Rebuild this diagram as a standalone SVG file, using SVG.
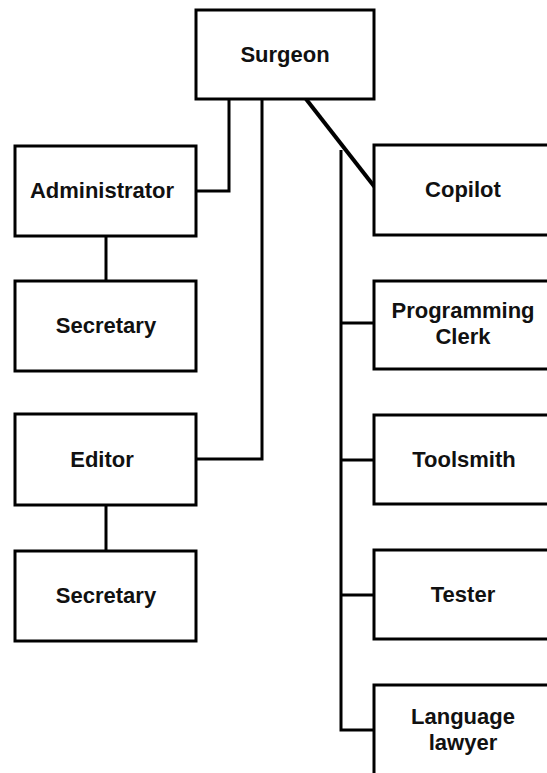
<svg xmlns="http://www.w3.org/2000/svg" width="547" height="773" viewBox="0 0 547 773">
<style>
.box{fill:#fff;stroke:#000;stroke-width:3}
.lbl{font-family:"Liberation Sans",Arial,sans-serif;font-weight:bold;font-size:22px;fill:#111;text-anchor:middle}
.con{fill:none;stroke:#000;stroke-width:3}
</style>
<rect width="547" height="773" fill="#fff"/>
<g id="connectors">
<polyline class="con" points="229,99 229,191 196,191"/>
<polyline class="con" points="262,99 262,459 196,459"/>
<line class="con" x1="306" y1="99" x2="377" y2="190" style="stroke-width:4"/>
<polyline class="con" points="341,150 341,730 374,730"/>
<line class="con" x1="341" y1="323" x2="374" y2="323"/>
<line class="con" x1="341" y1="460" x2="374" y2="460"/>
<line class="con" x1="341" y1="595" x2="374" y2="595"/>
<line class="con" x1="106" y1="236" x2="106" y2="281"/>
<line class="con" x1="106" y1="505" x2="106" y2="551"/>
</g>
<g id="surgeon"><rect class="box" x="196" y="10" width="178" height="89"/><text class="lbl" x="285" y="62">Surgeon</text></g>
<g id="administrator"><rect class="box" x="15" y="146" width="181" height="90"/><text class="lbl" x="102" y="198">Administrator</text></g>
<g id="secretary1"><rect class="box" x="15" y="281" width="181" height="90"/><text class="lbl" x="106" y="333">Secretary</text></g>
<g id="editor"><rect class="box" x="15" y="414" width="181" height="91"/><text class="lbl" x="102" y="467">Editor</text></g>
<g id="secretary2"><rect class="box" x="15" y="551" width="181" height="90"/><text class="lbl" x="106" y="603">Secretary</text></g>
<g id="copilot"><rect class="box" x="374" y="145" width="178" height="90"/><text class="lbl" x="463" y="197">Copilot</text></g>
<g id="programming-clerk"><rect class="box" x="374" y="281" width="178" height="88"/><text class="lbl" x="463" y="318">Programming</text><text class="lbl" x="463" y="344">Clerk</text></g>
<g id="toolsmith"><rect class="box" x="374" y="415" width="178" height="89"/><text class="lbl" x="464" y="467">Toolsmith</text></g>
<g id="tester"><rect class="box" x="374" y="550" width="178" height="89"/><text class="lbl" x="463" y="602">Tester</text></g>
<g id="language-lawyer"><rect class="box" x="374" y="685" width="178" height="100"/><text class="lbl" x="463" y="724">Language</text><text class="lbl" x="463" y="750">lawyer</text></g>
</svg>
